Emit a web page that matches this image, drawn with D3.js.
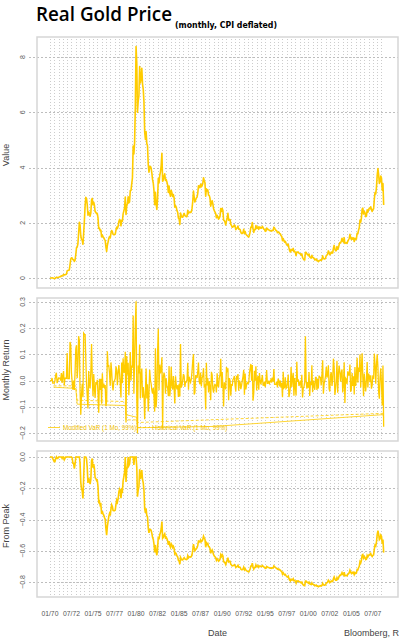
<!DOCTYPE html>
<html><head><meta charset="utf-8">
<script src="https://cdn.jsdelivr.net/npm/d3@7/dist/d3.min.js"></script>
<style>body{margin:0;background:#fff}svg{display:block}</style>
</head><body>
<svg id="chart" width="402" height="640"></svg>
<script>
// ---- DATA ----
const startMonth = "1970-01";
// cumulative real value, monthly, Jan 1970 .. Oct 2008
const value1970s = [
 0.00,0.00,0.00,0.01,0.00,-0.01,-0.02,-0.02,0.00,0.03,0.02,0.02,
 0.03,0.04,0.05,0.05,0.08,0.07,0.09,0.13,0.11,0.12,0.13,0.14,
 0.26,0.27,0.28,0.29,0.48,0.68,0.73,0.72,0.66,0.66,0.60,0.65,
 0.85,1.10,1.12,1.24,1.62,2.02,1.91,1.53,1.40,1.37,1.22,1.62,
 2.08,2.62,2.92,2.88,2.66,2.27,2.39,2.34,2.24,2.36,2.83,2.88,
 2.65,2.74,2.64,2.40,2.38,2.33,2.34,2.18,1.79,1.81,1.71,1.73,
 1.49,1.56,1.49,1.46,1.40,1.36,1.13,0.96,1.18,1.30,1.43,1.50,
 1.45,1.62,1.72,1.68,1.58,1.57,1.57,1.59,1.73,1.84,1.79,1.87,
 2.04,2.12,2.09,1.89,2.09,2.06,2.32,2.43,2.54,2.93,2.30,2.61,
 2.69,2.94,2.72,2.76,3.17,3.17,3.41,3.63,4.78,4.49,4.92,6.20];
const value1980s = [
 8.38,7.76,6.00,6.40,6.60,7.65,7.06,7.21,7.59,7.03,6.83,6.38,
 5.29,5.02,5.30,4.87,4.79,4.11,3.83,4.03,4.04,3.98,3.80,3.56,
 3.43,3.14,2.65,3.10,2.68,2.48,2.85,3.61,3.44,3.71,3.84,4.06,
 4.51,3.50,3.55,3.69,3.77,3.53,3.57,3.48,3.36,3.10,3.33,3.07,
 2.96,3.17,3.09,2.95,3.02,2.90,2.56,2.62,2.56,2.44,2.38,2.17,
 2.13,1.94,2.35,2.26,2.20,2.20,2.28,2.34,2.26,2.24,2.22,2.23,
 2.45,2.33,2.38,2.39,2.37,2.39,2.51,2.77,3.15,2.93,2.75,2.82,
 2.89,2.93,3.06,3.34,3.33,3.27,3.40,3.30,3.34,3.42,3.63,3.53,
 3.45,2.96,3.23,3.15,3.19,3.00,2.99,2.89,2.60,2.72,2.80,2.68,
 2.51,2.44,2.39,2.33,2.18,2.27,2.21,2.13,2.17,2.24,2.51,2.41];
const value1990s = [
 2.52,2.44,2.10,2.08,2.02,1.92,2.07,2.19,2.34,2.09,2.12,2.12,
 1.94,1.90,1.84,1.85,1.87,1.92,1.87,1.75,1.80,1.81,1.88,1.77,
 1.77,1.75,1.66,1.61,1.61,1.65,1.76,1.61,1.68,1.59,1.55,1.53,
 1.50,1.48,1.55,1.67,1.84,1.84,2.01,1.78,1.65,1.75,1.75,1.90,
 1.79,1.81,1.86,1.76,1.84,1.84,1.80,1.81,1.87,1.82,1.77,1.76,
 1.69,1.70,1.81,1.78,1.75,1.75,1.72,1.71,1.72,1.70,1.73,1.72,
 1.84,1.80,1.76,1.72,1.71,1.64,1.66,1.66,1.60,1.60,1.53,1.51,
 1.35,1.43,1.36,1.30,1.33,1.26,1.20,1.18,1.23,1.09,0.99,0.94,
 1.04,0.99,1.01,1.07,0.95,0.97,0.92,0.81,0.94,0.93,0.94,0.90,
 0.88,0.88,0.83,0.87,0.75,0.70,0.66,0.65,0.93,0.93,0.87,0.86];
const value2000s = [
 0.81,0.87,0.76,0.75,0.72,0.82,0.74,0.74,0.71,0.65,0.67,0.69,
 0.63,0.64,0.59,0.62,0.64,0.66,0.63,0.67,0.80,0.71,0.69,0.69,
 0.72,0.81,0.83,0.87,0.98,0.92,0.84,0.88,0.94,0.90,0.91,1.07,
 1.18,1.06,0.99,0.99,1.14,1.04,1.09,1.21,1.28,1.27,1.34,1.44,
 1.33,1.30,1.46,1.25,1.27,1.28,1.25,1.33,1.38,1.43,1.58,1.47,
 1.39,1.46,1.41,1.45,1.32,1.44,1.39,1.41,1.62,1.60,1.73,1.82,
 2.10,2.02,2.16,2.49,2.53,2.32,2.41,2.36,2.22,2.24,2.47,2.38,
 2.47,2.53,2.51,2.58,2.47,2.41,2.48,2.50,2.86,3.09,3.04,3.29,
 3.72,3.96,3.75,3.42,3.48,3.69,3.62,3.18,3.42,2.64];
// VaR lines (breakpoints)
const modVaRDates  = ["1970-06","1973-01","1973-03","1978-10","1978-11","1980-02","1980-03","1989-01","2008-09","2008-10"];
const modVaRValues = [-0.025,-0.03,-0.09,-0.095,-0.13,-0.14,-0.18,-0.175,-0.13,-0.14];
const histVaRDates  = ["1970-06","1973-01","1973-03","1978-10","1978-11","1980-02","1980-03","2008-09","2008-10"];
const histVaRValues = [-0.02,-0.02,-0.075,-0.08,-0.15,-0.15,-0.16,-0.125,-0.13];
const xTickLabels = ["01/70","07/72","01/75","07/77","01/80","07/82","01/85","07/87","01/90","07/92","01/95","07/97","01/00","07/02","01/05","07/07"];
const valueTicks  = [0,2,4,6,8];
const returnTicks = [0.3,0.2,0.1,0.0,-0.1,-0.2];
const peakTicks   = [0.0,-0.2,-0.4,-0.6,-0.8];
const legendLabels = ["Modified VaR (1 Mo, 99%)","Historical VaR (1 Mo, 99%)"];

// ---- BUILD ----
const values = value1970s.concat(value1980s, value1990s, value2000s);
const pm = d3.timeParse("%Y-%m");
const t0 = pm(startMonth);
const dates = values.map((v,i)=>d3.timeMonth.offset(t0,i));
const series = values.map((v,i)=>({d:dates[i], v}));
const returns = values.map((v,i)=>({d:dates[i], v: i===0 ? 0 : (1+v)/(1+values[i-1]) - 1}));
let peak = -Infinity;
const drawdown = values.map((v,i)=>{peak=Math.max(peak,1+v);return {d:dates[i], v:(1+v)/peak-1};});

const GOLD = "#FFCC00";
const FONT = "Liberation Sans, Arial, sans-serif";
const svg = d3.select("#chart");
const L=37, R=398;
const x = d3.scaleTime().domain([new Date(1968,6,1), new Date(2010,5,1)]).range([L,R]);

const panels = [
  {top:37, bottom:288, y:d3.scaleLinear().domain([0,8]).range([278,57]), ticks:valueTicks, fmt:d3.format("d"), title:"Value", tc:155},
  {top:298, bottom:441, y:d3.scaleLinear().domain([-0.2,0.3]).range([433,302]), ticks:returnTicks, fmt:d3.format(".1f"), title:"Monthly Return", tc:370},
  {top:451, bottom:597, y:d3.scaleLinear().domain([-0.8,0]).range([582,457]), ticks:peakTicks, fmt:d3.format(".1f"), title:"From Peak", tc:526}
];

const gridDates = d3.timeMonth.every(6).range(t0, d3.timeMonth.offset(dates[dates.length-1],1));

panels.forEach((p,pi)=>{
  const g = svg.append("g");
  g.selectAll("line.vg").data(gridDates).join("line")
    .attr("x1",d=>Math.round(x(d))+0.5).attr("x2",d=>Math.round(x(d))+0.5)
    .attr("y1",p.top+2).attr("y2",p.bottom-2)
    .attr("stroke","#cccccc").attr("stroke-width",1).attr("stroke-dasharray","1,2");
  g.selectAll("line.hg").data(p.ticks).join("line")
    .attr("x1",29).attr("x2",R)
    .attr("y1",d=>Math.round(p.y(d))+0.5).attr("y2",d=>Math.round(p.y(d))+0.5)
    .attr("stroke","#bdbdbd").attr("stroke-width",1).attr("stroke-dasharray","2,2");
  g.selectAll("text.tl").data(p.ticks).join("text")
    .attr("transform",d=>`translate(25,${p.y(d)}) rotate(-90)`)
    .attr("text-anchor","middle").attr("font-family",FONT)
    .attr("font-size",7).attr("fill","#555").text(d=>p.fmt(d===0?0:d));
  g.append("text").attr("transform",`translate(9,${p.tc}) rotate(-90)`)
    .attr("text-anchor","middle").attr("font-family",FONT)
    .attr("font-size",9).attr("fill","#444").text(p.title);
  g.append("rect").attr("x",L).attr("y",p.top).attr("width",R-L).attr("height",p.bottom-p.top)
    .attr("fill","none").attr("stroke","#d6d6d6").attr("stroke-width",1.5);
});

const line = (ys)=>d3.line().x(d=>x(d.d)).y(d=>ys(d.v));
svg.append("path").datum(series).attr("d",line(panels[0].y))
  .attr("fill","none").attr("stroke",GOLD).attr("stroke-width",1.6).attr("stroke-linejoin","round");
svg.append("path").datum(returns).attr("d",line(panels[1].y))
  .attr("fill","none").attr("stroke",GOLD).attr("stroke-width",1.3);
const varLine = (ds,vs)=>ds.map((d,i)=>({d:pm(d), v:vs[i]}));
svg.append("path").datum(varLine(modVaRDates,modVaRValues)).attr("d",line(panels[1].y))
  .attr("fill","none").attr("stroke",GOLD).attr("stroke-width",0.8);
svg.append("path").datum(varLine(histVaRDates,histVaRValues)).attr("d",line(panels[1].y))
  .attr("fill","none").attr("stroke",GOLD).attr("stroke-width",0.8).attr("stroke-dasharray","3,2");
const lg = svg.append("g").attr("font-family",FONT).attr("font-size",6.3).attr("fill","#F2C200");
lg.append("line").attr("x1",48).attr("x2",60).attr("y1",427.5).attr("y2",427.5).attr("stroke",GOLD).attr("stroke-width",0.8);
lg.append("text").attr("x",63).attr("y",430).text(legendLabels[0]);
lg.append("line").attr("x1",138).attr("x2",150).attr("y1",427.5).attr("y2",427.5).attr("stroke",GOLD).attr("stroke-width",0.8).attr("stroke-dasharray","3,2");
lg.append("text").attr("x",152).attr("y",430).text(legendLabels[1]);
svg.append("path").datum(drawdown).attr("d",line(panels[2].y))
  .attr("fill","none").attr("stroke",GOLD).attr("stroke-width",1.6);

const pl = d3.timeParse("%m/%y");
svg.selectAll("text.xt").data(xTickLabels).join("text")
  .attr("x",d=>x(pl(d))).attr("y",616).attr("text-anchor","middle")
  .attr("font-family",FONT).attr("font-size",6.8).attr("fill","#555").text(d=>d);
svg.append("text").attr("x",(L+R)/2).attr("y",636).attr("text-anchor","middle")
  .attr("font-family",FONT).attr("font-size",9).attr("fill","#444").text("Date");
svg.append("text").attr("x",399).attr("y",636).attr("text-anchor","end")
  .attr("font-family",FONT).attr("font-size",9).attr("fill","#444").text("Bloomberg, R");

svg.append("text").attr("x",36).attr("y",21).attr("font-family","Open Sans, DejaVu Sans, sans-serif").attr("font-weight",600)
  .attr("font-size",19).attr("fill","#000").attr("textLength",136).attr("lengthAdjust","spacingAndGlyphs").text("Real Gold Price");
svg.append("text").attr("x",175).attr("y",28).attr("font-family","DejaVu Sans, sans-serif").attr("font-weight","bold")
  .attr("font-size",8.3).attr("fill","#000").attr("textLength",102).attr("lengthAdjust","spacingAndGlyphs").text("(monthly, CPI deflated)");
</script>
</body></html>
